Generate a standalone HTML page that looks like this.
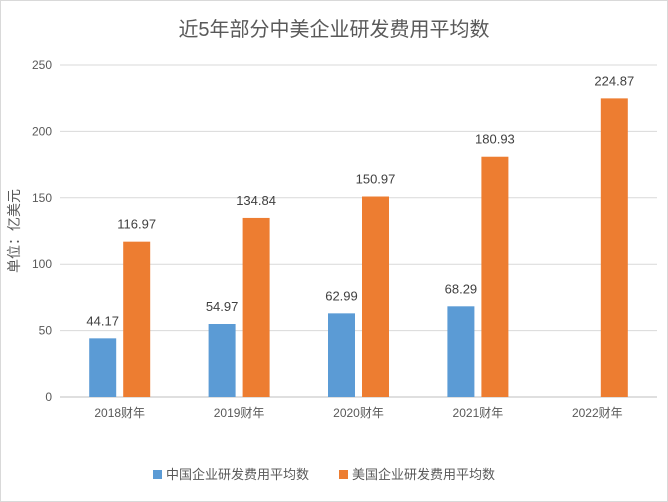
<!DOCTYPE html>
<html><head><meta charset="utf-8"><style>
body{margin:0;background:#fff;}
svg{display:block;font-family:"Liberation Sans","Noto Sans CJK SC",sans-serif;}
</style></head><body>
<svg id="chart" width="668" height="502" xmlns="http://www.w3.org/2000/svg">
<rect x="0.5" y="0.5" width="667" height="501" fill="#fff" stroke="#d9d9d9"/>
<text x="334" y="36" text-anchor="middle" font-size="20" fill="#595959">近5年部分中美企业研发费用平均数</text>
<text transform="translate(19,231) rotate(-90)" text-anchor="middle" font-size="14" fill="#595959">单位：亿美元</text>
<g id="grid"></g><g id="bars"></g><g id="labels"></g>
<g>
<rect x="153" y="470" width="9" height="9" fill="#5b9bd5"/>
<text x="166" y="479" font-size="13" fill="#595959">中国企业研发费用平均数</text>
<rect x="339" y="470" width="9" height="9" fill="#ed7d31"/>
<text x="352" y="479" font-size="13" fill="#595959">美国企业研发费用平均数</text>
</g>
</svg>
<script>
const categories=["2018财年","2019财年","2020财年","2021财年","2022财年"];
const chinaValues=[44.17,54.97,62.99,68.29,null];
const usValues=[116.97,134.84,150.97,180.93,224.87];
const yTicks=[0,50,100,150,200,250];
const NS="http://www.w3.org/2000/svg";
const x0=60,x1=657,y0=397,y1=65,yMax=250;
const band=(x1-x0)/categories.length;
const y=v=>y0-(v/yMax)*(y0-y1);
const cx=i=>x0+band*(i+0.5);
function mk(tag,attrs,parent,text){const e=document.createElementNS(NS,tag);for(const k in attrs)e.setAttribute(k,attrs[k]);if(text!=null)e.textContent=text;parent.appendChild(e);return e;}
const grid=document.getElementById('grid'),bars=document.getElementById('bars'),labels=document.getElementById('labels');
yTicks.forEach(t=>{
 const l=mk('line',{x1:x0,x2:x1,y1:y(t),y2:y(t),stroke:t===0?'#bfbfbf':'#d9d9d9','stroke-width':1},grid);
 
 
 const tx=mk('text',{x:52,y:y(t)+4,'text-anchor':'end','font-size':12,fill:'#595959'},grid,String(t));
 
 
});
const bw=27;
categories.forEach((c,i)=>{
 const tx=mk('text',{x:cx(i),y:417,'text-anchor':'middle','font-size':12,fill:'#595959'},grid,c);
 
 
 [[chinaValues[i],'#5b9bd5',-bw-3.5,'china'],[usValues[i],'#ed7d31',3.5,'us']].forEach(([v,col,off,s])=>{
  if(v==null)return;
  const b=mk('rect',{x:cx(i)+off,y:y(v),width:bw,height:y0-y(v),fill:col},bars);
  
  
  const lb=mk('text',{x:cx(i)+off+bw/2,y:y(v)-13,'text-anchor':'middle','font-size':13,fill:'#404040'},labels,v.toFixed(2));
  
  
 });
});
</script>
</body></html>
